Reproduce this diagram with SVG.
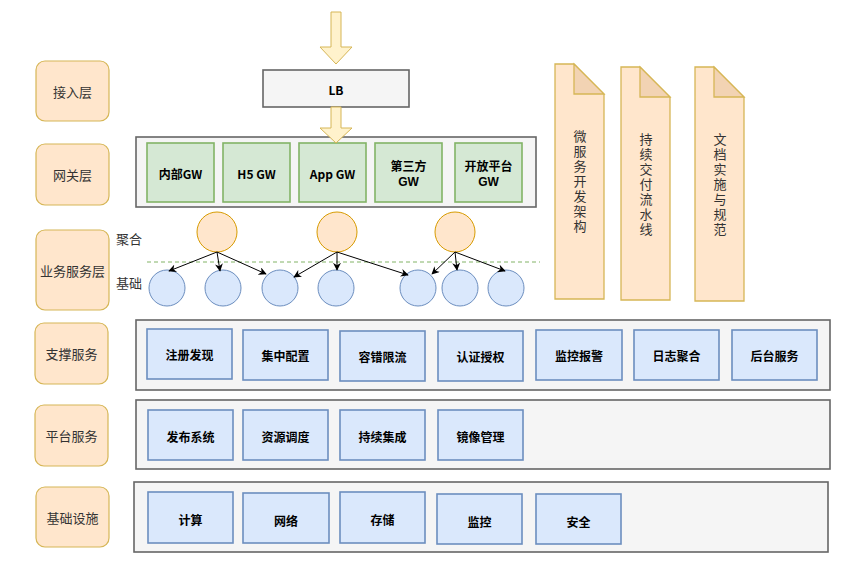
<svg xmlns="http://www.w3.org/2000/svg" width="863" height="574" viewBox="0 0 863 574">
<defs>
<style>
text{font-family:"Noto Sans CJK SC","Noto Sans",sans-serif;text-anchor:middle;dominant-baseline:central}
.lbl rect{fill:#ffe6cc;stroke:#d6b656;stroke-width:1.2}
.lbl text{font-size:13px;fill:#333}
.cont{fill:#f5f5f5;stroke:#666;stroke-width:1.6}
.gw rect{fill:#d5e8d4;stroke:#82b366;stroke-width:1.6}
.bx rect{fill:#dae8fc;stroke:#6c8ebf;stroke-width:1.6}
.bt{font-size:12px;font-weight:bold;fill:#000}
.lat{font-family:"Liberation Sans",Arial,sans-serif}
.agg{fill:#ffe6cc;stroke:#d79b00;stroke-width:1}
.base{fill:#dae8fc;stroke:#6c8ebf;stroke-width:1}
.note path.b{fill:#ffe6cc;stroke:#d6b656;stroke-width:1.3}
.note path.f{fill:#f2d3b3;stroke:#d6b656;stroke-width:1.3}
.note text{font-size:13px;fill:#333;writing-mode:vertical-rl;letter-spacing:2px;dominant-baseline:auto}
.bar{fill:#fff2cc;stroke:#d6b656;stroke-width:1}
.conn line{stroke:#000;stroke-width:1;marker-end:url(#ah)}
.side{font-size:13px;fill:#333}
</style>
<marker id="ah" viewBox="0 0 10 10" refX="9" refY="5" markerWidth="8" markerHeight="8" markerUnits="userSpaceOnUse" orient="auto">
<path d="M0,0 L10,5 L0,10 L3,5 Z" fill="#000"/>
</marker>
</defs>

<!-- Left layer labels -->
<g id="l-access" class="lbl"><rect x="36" y="61" width="73" height="60" rx="9"/><text x="72.5" y="91">接入层</text></g>
<g id="l-gateway" class="lbl"><rect x="36" y="144" width="73" height="61" rx="9"/><text x="72.5" y="174.5">网关层</text></g>
<g id="l-biz" class="lbl"><rect x="36" y="230" width="73" height="80" rx="9"/><text x="72.5" y="270">业务服务层</text></g>
<g id="l-support" class="lbl"><rect x="35" y="323" width="73" height="61" rx="9"/><text x="71.5" y="353.5">支撑服务</text></g>
<g id="l-platform" class="lbl"><rect x="35" y="405" width="73" height="61" rx="9"/><text x="71.5" y="435.5">平台服务</text></g>
<g id="l-infra" class="lbl"><rect x="36" y="487" width="73" height="60" rx="9"/><text x="72.5" y="517">基础设施</text></g>

<!-- Top block arrow -->
<g id="arrow-in"><path class="bar" d="M331,12 L341,12 L341,47 L352,47 L336,64 L320,47 L331,47 Z"/></g>

<!-- LB -->
<g id="lb"><rect class="cont" x="263" y="70" width="146" height="37"/><text class="bt" x="336" y="89">LB</text></g>

<!-- Gateway container -->
<g id="gw-layer">
<rect class="cont" x="136" y="137" width="400" height="70"/>
<g id="gw1" class="gw"><rect x="147" y="143" width="67" height="59"/><text class="bt" x="180.5" y="173">内部GW</text></g>
<g id="gw2" class="gw"><rect x="223" y="143" width="67" height="59"/><text class="bt" x="256.5" y="173">H5 GW</text></g>
<g id="gw3" class="gw"><rect x="299" y="143" width="67" height="59"/><text class="bt" x="332.5" y="173">App GW</text></g>
<g id="gw4" class="gw"><rect x="375" y="143" width="67" height="59"/><text class="bt" x="408.5" y="165">第三方</text><text class="bt lat" x="408.5" y="182">GW</text></g>
<g id="gw5" class="gw"><rect x="455" y="143" width="67" height="59"/><text class="bt" x="488.5" y="165">开放平台</text><text class="bt lat" x="488.5" y="182">GW</text></g>
</g>

<!-- Second block arrow (LB -> App GW) -->
<g id="arrow-lb"><path class="bar" d="M331,107 L341,107 L341,128 L352,128 L336,143 L320,128 L331,128 Z"/></g>

<!-- Business layer -->
<line x1="147" y1="262" x2="540" y2="262" stroke="#82b366" stroke-width="1" stroke-dasharray="4,3"/>
<text class="side" x="129" y="238">聚合</text>
<text class="side" x="129" y="282">基础</text>

<g id="agg1"><circle class="agg" cx="217" cy="232" r="20"/></g>
<g id="agg2"><circle class="agg" cx="337" cy="232" r="20"/></g>
<g id="agg3"><circle class="agg" cx="455" cy="232" r="20"/></g>

<g id="base1"><circle class="base" cx="167" cy="288" r="18"/></g>
<g id="base2"><circle class="base" cx="223" cy="288" r="18"/></g>
<g id="base3"><circle class="base" cx="280" cy="288" r="18"/></g>
<g id="base4"><circle class="base" cx="336" cy="288" r="18"/></g>
<g id="base5"><circle class="base" cx="418" cy="288" r="18"/></g>
<g id="base6"><circle class="base" cx="460" cy="288" r="18"/></g>
<g id="base7"><circle class="base" cx="506" cy="288" r="18"/></g>

<g id="connectors" class="conn">
<line x1="217" y1="252" x2="169" y2="271"/>
<line x1="217" y1="252" x2="220" y2="271"/>
<line x1="217" y1="252" x2="266" y2="274"/>
<line x1="337" y1="252" x2="294" y2="277"/>
<line x1="337" y1="252" x2="337" y2="270"/>
<line x1="337" y1="252" x2="408" y2="275"/>
<line x1="455" y1="252" x2="432" y2="274"/>
<line x1="455" y1="252" x2="457" y2="270"/>
<line x1="455" y1="252" x2="505" y2="271"/>
</g>

<!-- Notes -->
<g id="note1" class="note">
<path class="b" d="M555,64 L574,64 L604,94 L604,299 L555,299 Z"/>
<path class="f" d="M574,64 L574,94 L604,94 Z"/>
<text x="580" y="182">微服务开发架构</text>
</g>
<g id="note2" class="note">
<path class="b" d="M621,67 L640,67 L670,97 L670,300 L621,300 Z"/>
<path class="f" d="M640,67 L640,97 L670,97 Z"/>
<text x="646" y="185">持续交付流水线</text>
</g>
<g id="note3" class="note">
<path class="b" d="M695,67 L714,67 L744,97 L744,301 L695,301 Z"/>
<path class="f" d="M714,67 L714,97 L744,97 Z"/>
<text x="720" y="185">文档实施与规范</text>
</g>

<!-- Support services -->
<g id="support">
<rect class="cont" x="136" y="320" width="694" height="70"/>
<g id="s1" class="bx"><rect x="147" y="329" width="85" height="50"/><text class="bt" x="189.5" y="354">注册发现</text></g>
<g id="s2" class="bx"><rect x="243" y="330" width="85" height="50"/><text class="bt" x="285.5" y="355">集中配置</text></g>
<g id="s3" class="bx"><rect x="340" y="331" width="85" height="50"/><text class="bt" x="382.5" y="356">容错限流</text></g>
<g id="s4" class="bx"><rect x="438" y="331" width="85" height="50"/><text class="bt" x="480.5" y="356">认证授权</text></g>
<g id="s5" class="bx"><rect x="536" y="330" width="86" height="50"/><text class="bt" x="579" y="355">监控报警</text></g>
<g id="s6" class="bx"><rect x="634" y="330" width="85" height="50"/><text class="bt" x="676.5" y="355">日志聚合</text></g>
<g id="s7" class="bx"><rect x="732" y="330" width="85" height="50"/><text class="bt" x="774.5" y="355">后台服务</text></g>
</g>

<!-- Platform services -->
<g id="platform">
<rect class="cont" x="136" y="400" width="694" height="69"/>
<g id="p1" class="bx"><rect x="148" y="410" width="85" height="50"/><text class="bt" x="190.5" y="436">发布系统</text></g>
<g id="p2" class="bx"><rect x="243" y="410" width="85" height="50"/><text class="bt" x="285.5" y="436">资源调度</text></g>
<g id="p3" class="bx"><rect x="340" y="410" width="85" height="50"/><text class="bt" x="382.5" y="436">持续集成</text></g>
<g id="p4" class="bx"><rect x="438" y="410" width="85" height="50"/><text class="bt" x="480.5" y="436">镜像管理</text></g>
</g>

<!-- Infrastructure -->
<g id="infra">
<rect class="cont" x="134" y="482" width="694" height="70"/>
<g id="i1" class="bx"><rect x="148" y="492" width="85" height="51"/><text class="bt" x="190.5" y="519">计算</text></g>
<g id="i2" class="bx"><rect x="243" y="493" width="86" height="50"/><text class="bt" x="286" y="520">网络</text></g>
<g id="i3" class="bx"><rect x="340" y="492" width="85" height="51"/><text class="bt" x="382.5" y="519">存储</text></g>
<g id="i4" class="bx"><rect x="437" y="494" width="85" height="50"/><text class="bt" x="479.5" y="521">监控</text></g>
<g id="i5" class="bx"><rect x="536" y="494" width="85" height="50"/><text class="bt" x="578.5" y="521">安全</text></g>
</g>
</svg>
